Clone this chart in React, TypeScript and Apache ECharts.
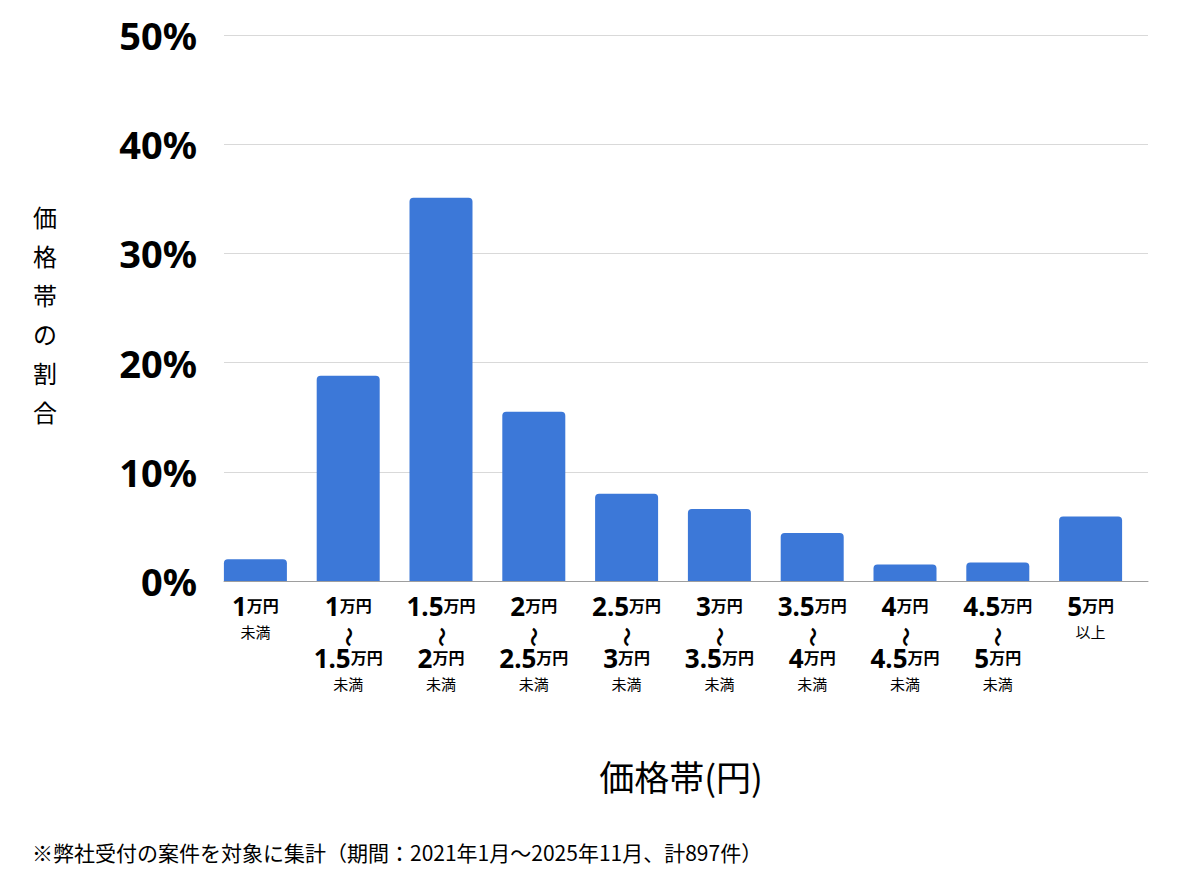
import { useEffect, useRef } from 'react'
import * as echarts from 'echarts'

// price bands (万円), '' = open end
const rangeFrom = ['', '1', '1.5', '2', '2.5', '3', '3.5', '4', '4.5', '5']
const rangeTo = ['1', '1.5', '2', '2.5', '3', '3.5', '4', '4.5', '5', '']
const categories = rangeFrom.map((f, i) => `${f}-${rangeTo[i]}`)
// share of each band (%)
const shares = [2.0, 18.8, 35.1, 15.5, 8.0, 6.6, 4.4, 1.5, 1.7, 5.9]
const yTicks = [0, 10, 20, 30, 40, 50]

const FONT = '"Noto Sans", "Noto Sans CJK JP", sans-serif'

export default function App() {
  const chartRef = useRef<HTMLDivElement>(null)

  useEffect(() => {
    if (!chartRef.current) return
    const chart = echarts.init(chartRef.current, null, { renderer: 'svg' })

    const labelFor = (_v: string, i: number) => {
      const f = rangeFrom[i]
      const t = rangeTo[i]
      if (!f) return `{n|${t}}{u|万円}\n{s|未満}`
      if (!t) return `{n|${f}}{u|万円}\n{s|以上}`
      return `{n|${f}}{u|万円}\n{g| }\n{n|${t}}{u|万円}\n{s|未満}`
    }
    // the vertical wave between the two bounds
    const waveFor = (_v: string, i: number) => (rangeFrom[i] && rangeTo[i] ? '〜' : '')

    const option: echarts.EChartsOption = {
      animation: false,
      backgroundColor: '#ffffff',
      textStyle: { fontFamily: FONT },
      grid: [
        { left: 224, right: 52, top: 35, bottom: 293 },
        { left: 209, right: 63, top: 35, bottom: 293 },
      ],
      xAxis: [
        {
          gridIndex: 0,
          type: 'value',
          min: 0,
          max: 1,
          axisLine: { show: true, lineStyle: { color: '#9e9e9e', width: 1 } },
          axisTick: { show: false },
          axisLabel: { show: false },
          splitLine: { show: false },
        },
        {
          gridIndex: 1,
          type: 'category',
          position: 'bottom',
          data: categories,
          axisLine: { show: false },
          axisTick: { show: false },
          axisLabel: {
            interval: 0,
            margin: 12,
            verticalAlign: 'top',
            color: '#000',
            formatter: labelFor,
            rich: {
              n: { fontSize: 26, fontWeight: 'bold', lineHeight: 26, fontFamily: FONT, color: '#000' },
              u: { fontSize: 16, fontWeight: 'bold', lineHeight: 26, fontFamily: FONT, color: '#000' },
              g: { fontSize: 10, lineHeight: 26 },
              s: { fontSize: 15, lineHeight: 24, fontFamily: '"Noto Sans CJK JP", sans-serif', color: '#000' },
            },
          },
        },
        {
          gridIndex: 1,
          type: 'category',
          position: 'bottom',
          offset: 0,
          data: categories,
          axisLine: { show: false },
          axisTick: { show: false },
          axisLabel: {
            interval: 0,
            rotate: 90,
            margin: 46,
            color: '#000',
            fontSize: 20,
            fontWeight: 'bold',
            fontFamily: '"Noto Sans CJK JP", sans-serif',
            formatter: waveFor,
          },
        },
      ],
      yAxis: [
        {
          gridIndex: 0,
          type: 'value',
          min: yTicks[0],
          max: yTicks[yTicks.length - 1],
          interval: 10,
          axisLine: { show: false },
          axisTick: { show: false },
          axisLabel: {
            margin: 27,
            color: '#000',
            fontSize: 38,
            fontWeight: 'bold',
            fontFamily: FONT,
            formatter: '{value}%',
          },
          splitLine: { lineStyle: { color: '#d9d9d9', width: 1 } },
        },
        {
          gridIndex: 1,
          type: 'value',
          min: yTicks[0],
          max: yTicks[yTicks.length - 1],
          show: false,
        },
      ],
      graphic: [
        {
          type: 'text',
          left: 33,
          top: 197,
          style: {
            text: '価\n格\n帯\nの\n割\n合',
            font: '24px "Noto Sans CJK JP", sans-serif',
            lineHeight: 39,
            fill: '#000',
            align: 'left',
          },
        },
        {
          type: 'text',
          x: 681,
          y: 775,
          style: {
            text: '価格帯(円)',
            font: '35px "Noto Sans CJK JP", sans-serif',
            fill: '#000',
            align: 'center',
            verticalAlign: 'middle',
          },
        },
        {
          type: 'text',
          x: 32,
          y: 852,
          style: {
            text: '※弊社受付の案件を対象に集計（期間：2021年1月〜2025年11月、計897件）',
            font: '21px "Noto Sans CJK JP", sans-serif',
            fill: '#000',
            align: 'left',
            verticalAlign: 'middle',
          },
        },
      ],
      series: [
        {
          type: 'bar',
          xAxisIndex: 1,
          yAxisIndex: 1,
          data: shares,
          barWidth: 63,
          itemStyle: { color: '#3c78d8', borderRadius: [4, 4, 0, 0] },
          z: 3,
        },
      ],
    }

    chart.setOption(option)
    return () => chart.dispose()
  }, [])

  return (
    <div
      ref={chartRef}
      style={{ position: 'fixed', left: 0, top: 0, width: 1200, height: 874, background: '#fff' }}
    />
  )
}
